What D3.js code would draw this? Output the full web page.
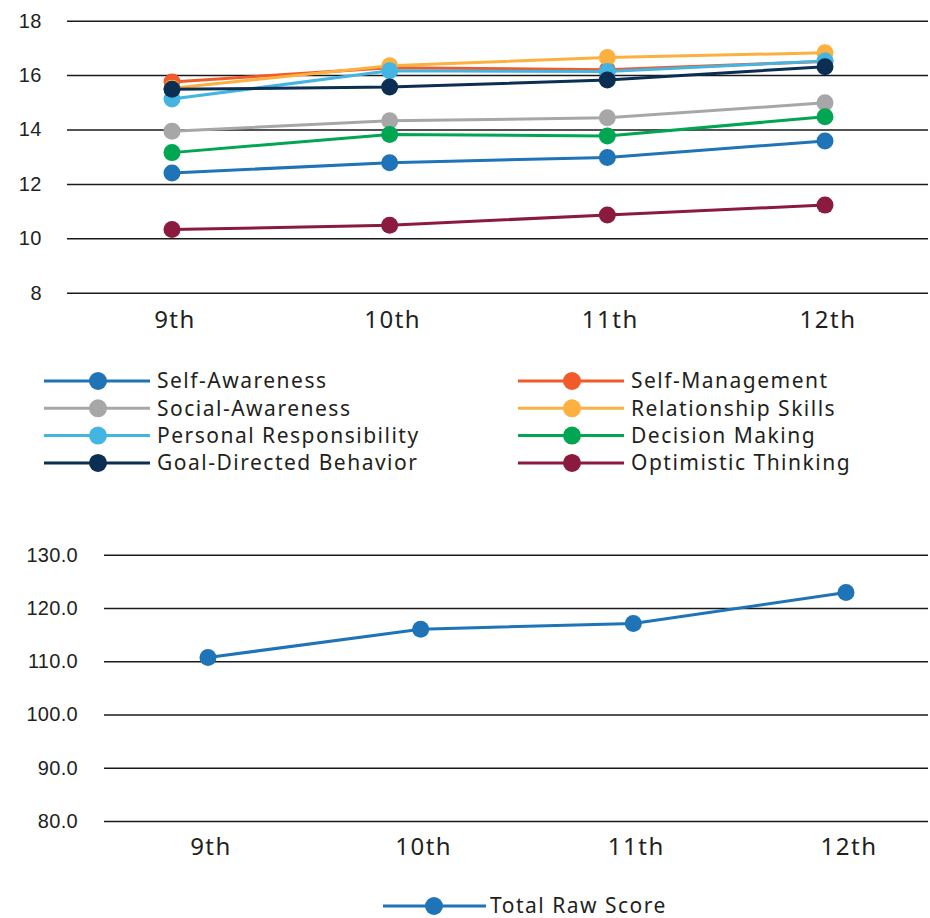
<!DOCTYPE html>
<html>
<head>
<meta charset="utf-8">
<script src="https://cdn.jsdelivr.net/npm/d3@7"></script>
<style>
  body { margin: 0; background: #fff; }
  svg { display: block; font-family: "Noto Sans", "Open Sans", sans-serif; }
</style>
</head>
<body>
<svg id="chart" width="930" height="918"></svg>
<script>
// grades on the x axis
const grades = ["9th", "10th", "11th", "12th"];

// competency series (top chart)
const seriesNames = ["Self-Awareness", "Self-Management", "Social-Awareness", "Relationship Skills",
    "Personal Responsibility", "Decision Making", "Goal-Directed Behavior", "Optimistic Thinking"];
const selfAwareness = [12.4, 12.78, 12.97, 13.58];
const selfManagement = [15.75, 16.27, 16.2, 16.5];
const socialAwareness = [13.94, 14.32, 14.43, 14.98];
const relationshipSkills = [15.52, 16.34, 16.65, 16.82];
const personalResponsibility = [15.12, 16.16, 16.13, 16.52];
const decisionMaking = [13.15, 13.82, 13.76, 14.47];
const goalDirected = [15.48, 15.56, 15.82, 16.31];
const optimisticThinking = [10.32, 10.48, 10.86, 11.22];
const seriesColors = ["#1f73b7", "#f15a29", "#a7a7a7", "#fbb040", "#44b4e3", "#00a651", "#0c2e52", "#8b1a3f"];
const topTicks = [8, 10, 12, 14, 16, 18];

// total raw score (bottom chart)
const totalRawScore = [110.7, 116.0, 117.1, 122.9];
const bottomTicks = [80, 90, 100, 110, 120, 130];

const topValues = [selfAwareness, selfManagement, socialAwareness, relationshipSkills,
    personalResponsibility, decisionMaking, goalDirected, optimisticThinking];

const svg = d3.select("#chart");
const textColor = "#231f20";

// ---------- top chart ----------
let x1 = d3.scalePoint().domain(grades).range([172, 825]);
let y1 = d3.scaleLinear().domain([8, 18]).range([292.7, 20.7]);

let g1 = svg.append("g");

// gridlines + y labels
let yAxis1 = d3.axisLeft(y1).tickValues(topTicks).tickSize(-(928 - 67)).tickPadding(25);
g1.append("g")
    .attr("transform", "translate(67,0)")
    .call(yAxis1)
    .call(g => g.select(".domain").remove())
    .call(g => g.selectAll(".tick line").attr("stroke", "#1a1a1a").attr("stroke-width", 1.5))
    .call(g => g.selectAll(".tick text").attr("font-size", 20).attr("letter-spacing", 0.5)
        .attr("fill", textColor).attr("font-family", null));

// x labels
g1.selectAll(".xlab")
    .data(grades)
    .join("text")
    .attr("x", d => x1(d) + 3)
    .attr("y", 328)
    .attr("text-anchor", "middle")
    .attr("font-size", 24)
    .attr("letter-spacing", 1.5)
    .attr("fill", textColor)
    .text(d => d);

let line1 = d3.line()
    .x((d, i) => x1(grades[i]))
    .y(d => y1(d));

topValues.forEach((vals, k) => {
    let s = g1.append("g");
    s.append("path")
        .datum(vals)
        .attr("fill", "none")
        .attr("stroke", seriesColors[k])
        .attr("stroke-width", 3)
        .attr("d", line1);
    s.selectAll("circle")
        .data(vals)
        .join("circle")
        .attr("cx", (d, i) => x1(grades[i]))
        .attr("cy", d => y1(d))
        .attr("r", 8.5)
        .attr("fill", seriesColors[k]);
});

// legend for top chart
let legend1 = svg.append("g");
seriesNames.forEach((name, k) => {
    let col = k % 2;
    let row = Math.floor(k / 2);
    let lx = col === 0 ? 44 : 518;
    let ly = 381 + row * 27.3;
    let item = legend1.append("g").attr("transform", "translate(" + lx + "," + ly + ")");
    item.append("line")
        .attr("x1", 0).attr("x2", 106)
        .attr("y1", 0).attr("y2", 0)
        .attr("stroke", seriesColors[k])
        .attr("stroke-width", 3);
    item.append("circle")
        .attr("cx", 54).attr("cy", 0)
        .attr("r", 9)
        .attr("fill", seriesColors[k]);
    item.append("text")
        .attr("x", 113).attr("y", 0)
        .attr("dy", "0.35em")
        .attr("font-size", 21)
        .attr("letter-spacing", 1.5)
        .attr("fill", textColor)
        .text(name);
});

// ---------- bottom chart ----------
let x2 = d3.scalePoint().domain(grades).range([208, 846]);
let y2 = d3.scaleLinear().domain([80, 130]).range([821, 554.7]);

let g2 = svg.append("g");

let yAxis2 = d3.axisLeft(y2).tickValues(bottomTicks).tickSize(-(928 - 104)).tickPadding(26)
    .tickFormat(d3.format(".1f"));
g2.append("g")
    .attr("transform", "translate(104,0)")
    .call(yAxis2)
    .call(g => g.select(".domain").remove())
    .call(g => g.selectAll(".tick line").attr("stroke", "#1a1a1a").attr("stroke-width", 1.5))
    .call(g => g.selectAll(".tick text").attr("font-size", 20).attr("letter-spacing", 0.3)
        .attr("fill", textColor).attr("font-family", null));

g2.selectAll(".xlab")
    .data(grades)
    .join("text")
    .attr("x", d => x2(d) + 3)
    .attr("y", 855)
    .attr("text-anchor", "middle")
    .attr("font-size", 24)
    .attr("letter-spacing", 1.5)
    .attr("fill", textColor)
    .text(d => d);

let line2 = d3.line()
    .x((d, i) => x2(grades[i]))
    .y(d => y2(d));

g2.append("path")
    .datum(totalRawScore)
    .attr("fill", "none")
    .attr("stroke", "#1f73b7")
    .attr("stroke-width", 3)
    .attr("d", line2);

g2.selectAll("circle")
    .data(totalRawScore)
    .join("circle")
    .attr("cx", (d, i) => x2(grades[i]))
    .attr("cy", d => y2(d))
    .attr("r", 8.5)
    .attr("fill", "#1f73b7");

// legend for bottom chart
let legend2 = svg.append("g").attr("transform", "translate(383,906)");
legend2.append("line")
    .attr("x1", 0).attr("x2", 103)
    .attr("y1", 0).attr("y2", 0)
    .attr("stroke", "#1f73b7")
    .attr("stroke-width", 3);
legend2.append("circle")
    .attr("cx", 51).attr("cy", 0)
    .attr("r", 9)
    .attr("fill", "#1f73b7");
legend2.append("text")
    .attr("x", 107).attr("y", 0)
    .attr("dy", "0.35em")
    .attr("font-size", 21)
    .attr("letter-spacing", 1.5)
    .attr("fill", textColor)
    .text("Total Raw Score");
</script>
</body>
</html>
